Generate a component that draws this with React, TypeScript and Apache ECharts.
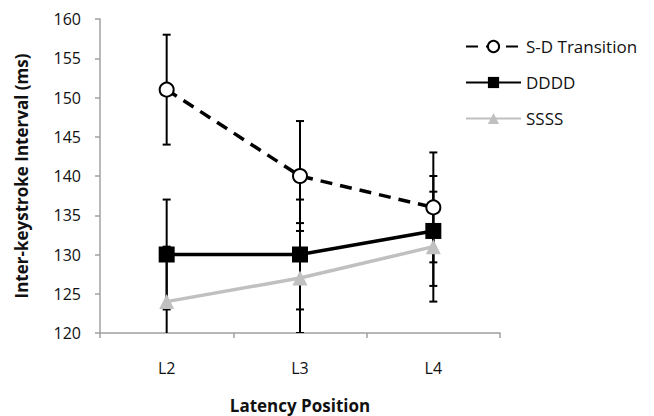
import React, { useEffect, useRef } from "react";
import * as echarts from "echarts";

const categories = ["L2", "L3", "L4"];
const sdTransition = [151, 140, 136];
const dddd = [130, 130, 133];
const ssss = [124, 127, 131];
const sdError = [7, 7, 7];
const ddddError = [7, 7, 7];
const ssssError = [7, 7, 7];
const yTicks = { min: 120, max: 160, interval: 5 };

const FONT = "Open Sans";

function errorData(values: number[], errs: number[]) {
  return values.map((v, i) => [i, v - errs[i], v + errs[i]]);
}

function errorSeries(name: string, values: number[], errs: number[]) {
  return {
    type: "custom",
    name: name + " error",
    data: errorData(values, errs),
    z: 3,
    silent: true,
    clip: true,
    renderItem: (params: any, api: any) => {
      const x = api.value(0);
      const lo = api.coord([x, api.value(1)]);
      const hi = api.coord([x, api.value(2)]);
      const cap = 4;
      const style = { stroke: "#000", lineWidth: 2 };
      return {
        type: "group",
        children: [
          { type: "line", shape: { x1: lo[0], y1: lo[1], x2: hi[0], y2: hi[1] }, style },
          { type: "line", shape: { x1: hi[0] - cap, y1: hi[1], x2: hi[0] + cap, y2: hi[1] }, style },
          { type: "line", shape: { x1: lo[0] - cap, y1: lo[1], x2: lo[0] + cap, y2: lo[1] }, style },
        ],
      };
    },
  };
}

export default function App() {
  const ref = useRef<HTMLDivElement>(null);
  useEffect(() => {
    if (!ref.current) return;
    const chart = echarts.init(ref.current, undefined, { renderer: "svg" });
    chart.setOption({
      animation: false,
      backgroundColor: "#fff",
      textStyle: { fontFamily: FONT },
      grid: { left: 100, top: 19, right: 154, bottom: 83, outerBoundsMode: "none", containLabel: false },
      legend: {
        orient: "vertical",
        left: 460,
        top: 33,
        itemWidth: 55,
        itemHeight: 14,
        itemGap: 19,
        data: ["S-D Transition", "DDDD", "SSSS"],
        textStyle: { fontFamily: FONT, fontSize: 17, color: "#111" },
      },
      xAxis: {
        type: "category",
        data: categories,
        boundaryGap: true,
        axisLine: { lineStyle: { color: "#a0a0a0", width: 1.5 } },
        axisTick: { show: true, length: 5, lineStyle: { color: "#a0a0a0", width: 1.5 } },
        axisLabel: { fontFamily: FONT, fontSize: 16, color: "#111", margin: 27 },
        name: "Latency Position",
        nameLocation: "middle",
        nameGap: 64,
        nameTextStyle: { fontFamily: FONT, fontSize: 17, fontWeight: "bold", color: "#111" },
      },
      yAxis: {
        type: "value",
        min: yTicks.min,
        max: yTicks.max,
        interval: yTicks.interval,
        splitLine: { show: false },
        axisLine: { show: true, lineStyle: { color: "#a0a0a0", width: 1.5 } },
        axisTick: { show: true, length: 5, lineStyle: { color: "#a0a0a0", width: 1.5 } },
        axisLabel: { fontFamily: FONT, fontSize: 16, color: "#111", margin: 19 },
        name: "Inter-keystroke Interval (ms)",
        nameLocation: "middle",
        nameGap: 70,
        nameRotate: 90,
        nameTextStyle: { fontFamily: FONT, fontSize: 17, fontWeight: "bold", color: "#111" },
      },
      series: [
        errorSeries("S-D Transition", sdTransition, sdError),
        errorSeries("DDDD", dddd, ddddError),
        errorSeries("SSSS", ssss, ssssError),
        {
          type: "line",
          name: "SSSS",
          data: ssss,
          z: 4,
          symbol: "triangle",
          symbolSize: 15,
          itemStyle: { color: "#c0c0c0" },
          lineStyle: { color: "#c0c0c0", width: 3.5 },
        },
        {
          type: "line",
          name: "DDDD",
          data: dddd,
          z: 5,
          symbol: "rect",
          symbolSize: 16,
          itemStyle: { color: "#000" },
          lineStyle: { color: "#000", width: 3.5 },
        },
        {
          type: "line",
          name: "S-D Transition",
          data: sdTransition,
          z: 6,
          symbol: "circle",
          symbolSize: 14,
          itemStyle: { color: "#fff", borderColor: "#000", borderWidth: 2 },
          lineStyle: { color: "#000", width: 3.5, type: [12, 8] },
        },
      ],
    });
    return () => chart.dispose();
  }, []);
  return <div ref={ref} style={{ width: 654, height: 416, position: "absolute", left: 0, top: 0 }} />;
}
